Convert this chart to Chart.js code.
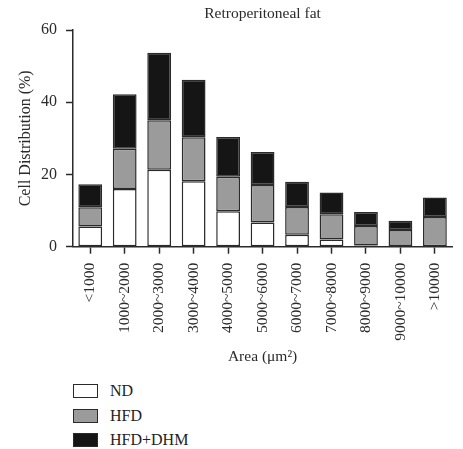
<!DOCTYPE html>
<html lang="en">
<head>
    <meta charset="UTF-8">
    <title>Retroperitoneal fat</title>
    <script src="https://cdn.jsdelivr.net/npm/chart.js"></script>
    <style>
        body {
            margin: 0;
            padding: 0;
            background: #fff;
            font-family: 'Liberation Serif', 'DejaVu Serif', serif;
            color: #222;
        }
        .wrap {
            position: relative;
            width: 463px;
            height: 449px;
        }
        .chart-box {
            position: absolute;
            left: 0;
            top: 0;
            width: 463px;
            height: 375px;
        }
        #legend {
            position: absolute;
            left: 73px;
            top: 379px;
        }
        .item {
            display: flex;
            align-items: center;
            height: 24.5px;
            font-size: 16px;
        }
        .swatch {
            width: 23px;
            height: 12px;
            border: 1.5px solid #2a2a2a;
            margin-right: 12px;
        }
    </style>
</head>
<body>
    <div class="wrap">
        <div class="chart-box"><canvas id="chart"></canvas></div>
        <div id="legend"></div>
    </div>

    <script>
        const categories = ['<1000', '1000~2000', '2000~3000', '3000~4000', '4000~5000', '5000~6000',
            '6000~7000', '7000~8000', '8000~9000', '9000~10000', '>10000'];
        const ndValues = [5.6, 16.0, 21.3, 18.1, 9.8, 6.7, 3.3, 2.0, 0.3, 0.2, 0.1];
        const hfdValues = [5.3, 11.1, 13.7, 12.2, 9.6, 10.4, 7.7, 7.0, 5.4, 4.4, 8.1];
        const dhmValues = [6.4, 15.1, 18.7, 15.9, 11.0, 9.1, 7.0, 6.0, 3.9, 2.6, 5.4];
        const yTicks = [0, 20, 40, 60];

        const serif = "'Liberation Serif', 'DejaVu Serif', serif";
        const ink = '#2a2a2a';

        function bars(label, data, color) {
            return {
                label: label,
                data: data,
                backgroundColor: color,
                borderColor: ink,
                borderWidth: 1.5,
                borderSkipped: false,
                barPercentage: 0.69,
                categoryPercentage: 1
            };
        }

        const chart = new Chart(document.getElementById('chart'), {
            type: 'bar',
            data: {
                labels: categories,
                datasets: [
                    bars('ND', ndValues, '#ffffff'),
                    bars('HFD', hfdValues, '#9b9b9b'),
                    bars('HFD+DHM', dhmValues, '#151515')
                ]
            },
            options: {
                responsive: true,
                maintainAspectRatio: false,
                animation: false,
                layout: { padding: { left: 0, right: 1, top: 0, bottom: 0 } },
                plugins: {
                    legend: { display: false },
                    tooltip: { enabled: false },
                    title: {
                        display: true,
                        text: 'Retroperitoneal fat',
                        fullSize: false,
                        color: ink,
                        font: { family: serif, size: 15.5, weight: 'normal' },
                        padding: { top: 4.7, bottom: 6.7 }
                    }
                },
                scales: {
                    x: {
                        stacked: true,
                        afterFit: (s) => { s.height = 128.3; },
                        grid: {
                            display: true,
                            offset: false,
                            drawOnChartArea: false,
                            drawTicks: true,
                            tickLength: 7,
                            tickWidth: 1.5,
                            color: ink
                        },
                        border: { display: true, color: ink, width: 1.5 },
                        ticks: {
                            minRotation: 90,
                            maxRotation: 90,
                            autoSkip: false,
                            padding: 9,
                            color: ink,
                            font: { family: serif, size: 15.5 }
                        },
                        title: {
                            display: true,
                            text: 'Area (μm²)',
                            color: ink,
                            font: { family: serif, size: 15.5 },
                            padding: { top: 0, bottom: 8.7 }
                        }
                    },
                    y: {
                        stacked: true,
                        min: 0,
                        max: 60,
                        afterFit: (s) => { s.width = 73; },
                        afterBuildTicks: (s) => { s.ticks = yTicks.map(v => ({ value: v })); },
                        grid: {
                            display: true,
                            drawOnChartArea: false,
                            drawTicks: true,
                            tickLength: 7,
                            tickWidth: 1.5,
                            color: ink
                        },
                        border: { display: true, color: ink, width: 1.5 },
                        ticks: {
                            padding: 9,
                            color: ink,
                            font: { family: serif, size: 16 }
                        },
                        title: {
                            display: true,
                            text: 'Cell Distribution (%)',
                            color: ink,
                            font: { family: serif, size: 16 },
                            padding: { top: 16.4, bottom: 0 }
                        }
                    }
                }
            }
        });

        // legend stacked vertically under the plot, like the original figure
        const legend = document.getElementById('legend');
        chart.data.datasets.forEach(ds => {
            const row = document.createElement('div');
            row.className = 'item';
            const sw = document.createElement('div');
            sw.className = 'swatch';
            sw.style.background = ds.backgroundColor;
            const txt = document.createElement('span');
            txt.textContent = ds.label;
            row.appendChild(sw);
            row.appendChild(txt);
            legend.appendChild(row);
        });
    </script>
</body>
</html>
